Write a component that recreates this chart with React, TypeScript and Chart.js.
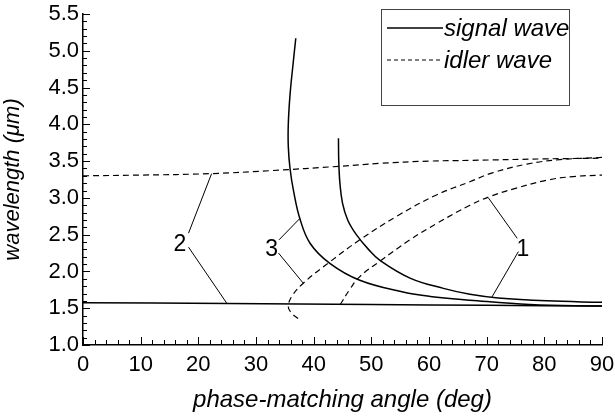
import React, { useEffect, useRef } from 'react';
import { Chart, registerables } from 'chart.js';

Chart.register(...registerables);

// ---- axis ticks ----
const xTickValues = [0, 10, 20, 30, 40, 50, 60, 70, 80, 90];
const yTickValues = [1.0, 1.5, 2.0, 2.5, 3.0, 3.5, 4.0, 4.5, 5.0, 5.5];

// ---- legend ----
const legendLabels = ['signal wave', 'idler wave'];

// ---- curves (x = phase-matching angle, y = wavelength) ----
const signal1X = [44.3, 44.35, 44.55, 45.0, 45.9, 47.4, 49.5, 51.5, 56.7, 62.5, 67.1, 72.0, 80.4, 90];
const signal1Y = [3.81, 3.5, 3.2, 2.93, 2.7, 2.5, 2.3, 2.15, 1.91, 1.77, 1.69, 1.64, 1.6, 1.58];
const idler1X = [44.6, 46.3, 48.0, 51.5, 56.7, 61.3, 67.1, 70.6, 75.0, 80.4, 85.0, 90];
const idler1Y = [1.55, 1.76, 1.93, 2.14, 2.43, 2.65, 2.9, 3.02, 3.13, 3.24, 3.29, 3.31];

const signal2X = [0, 25, 50, 70, 90];
const signal2Y = [1.575, 1.565, 1.55, 1.54, 1.53];
const idler2X = [0, 10, 22.3, 32.4, 44.6, 51.5, 60, 67.1, 80, 90];
const idler2Y = [3.3, 3.31, 3.33, 3.37, 3.43, 3.47, 3.5, 3.51, 3.53, 3.54];

const signal3X = [36.9, 36.4, 35.9, 35.6, 35.6, 35.9, 36.5, 37.6, 39.4, 42.8, 48.0, 55.5, 60.2, 67.1, 77.5, 90];
const signal3Y = [5.17, 4.8, 4.4, 4.0, 3.7, 3.4, 3.1, 2.72, 2.38, 2.11, 1.88, 1.72, 1.66, 1.61, 1.55, 1.53];
const idler3X = [37.3, 36.2, 35.6, 36.2, 38.2, 42.8, 48.0, 54.4, 61.3, 67.1, 71.0, 77.0, 82.7, 90];
const idler3Y = [1.36, 1.43, 1.52, 1.66, 1.84, 2.13, 2.43, 2.75, 3.04, 3.22, 3.34, 3.46, 3.52, 3.55];

// ---- curve annotations (data coordinates) ----
const noteLabels = ['1', '2', '3'];
const noteX = [76.3, 16.8, 32.7];
const noteY = [2.29, 2.36, 2.29];
const leaderFromX = [75.3, 75.5, 18.3, 18.3, 34.0, 33.9];
const leaderFromY = [2.45, 2.27, 2.52, 2.33, 2.43, 2.25];
const leaderToX = [70.3, 70.9, 22.3, 25.0, 37.6, 38.2];
const leaderToY = [3.0, 1.65, 3.33, 1.56, 2.72, 1.84];

const FONT = "'Liberation Sans', Arial, Helvetica, sans-serif";
const DASH = [6, 4];

const zip = (xs: number[], ys: number[]) => xs.map((x, i) => ({ x, y: ys[i] }));

const ticksPlugin = {
  id: 'innerTicks',
  afterDraw(chart: any) {
    const { ctx, scales, chartArea } = chart;
    const xs = scales.x;
    const ys = scales.y;
    ctx.save();
    ctx.strokeStyle = '#000';
    ctx.lineWidth = 1;
    for (let i = 0; i <= 45; i++) {
      const v = xs.min + i * 2;
      const px = Math.round(xs.getPixelForValue(v)) + 0.5;
      const len = i % 5 === 0 ? 8 : 5;
      ctx.beginPath();
      ctx.moveTo(px, chartArea.bottom);
      ctx.lineTo(px, chartArea.bottom - len);
      ctx.stroke();
    }
    for (let i = 0; i <= 45; i++) {
      const v = ys.min + i * 0.1;
      const py = Math.round(ys.getPixelForValue(v)) + 0.5;
      const len = i % 5 === 0 ? 7 : 4;
      ctx.beginPath();
      ctx.moveTo(chartArea.left, py);
      ctx.lineTo(chartArea.left + len, py);
      ctx.stroke();
    }
    ctx.restore();
  },
};

const notesPlugin = {
  id: 'notes',
  afterDatasetsDraw(chart: any) {
    const { ctx, scales } = chart;
    const xs = scales.x;
    const ys = scales.y;
    ctx.save();
    ctx.strokeStyle = '#000';
    ctx.lineWidth = 1;
    for (let i = 0; i < leaderFromX.length; i++) {
      ctx.beginPath();
      ctx.moveTo(xs.getPixelForValue(leaderFromX[i]), ys.getPixelForValue(leaderFromY[i]));
      ctx.lineTo(xs.getPixelForValue(leaderToX[i]), ys.getPixelForValue(leaderToY[i]));
      ctx.stroke();
    }
    ctx.fillStyle = '#000';
    ctx.font = `23px ${FONT}`;
    ctx.textAlign = 'center';
    ctx.textBaseline = 'middle';
    for (let i = 0; i < noteLabels.length; i++) {
      ctx.fillText(noteLabels[i], xs.getPixelForValue(noteX[i]), ys.getPixelForValue(noteY[i]));
    }
    ctx.restore();
  },
};

const legendPlugin = {
  id: 'boxLegend',
  afterDraw(chart: any) {
    const { ctx, chartArea } = chart;
    const bx = chartArea.right - 221;
    const by = chartArea.top - 5;
    const bw = 188;
    const bh = 96;
    ctx.save();
    ctx.strokeStyle = '#444';
    ctx.lineWidth = 1;
    ctx.strokeRect(Math.round(bx) + 0.5, Math.round(by) + 0.5, bw, bh);
    const dashes = [[], [4, 3]];
    const rows = [19, 51];
    ctx.font = `italic 24px ${FONT}`;
    ctx.fillStyle = '#000';
    ctx.textAlign = 'left';
    ctx.textBaseline = 'middle';
    legendLabels.forEach((lab, i) => {
      const y = by + rows[i];
      ctx.strokeStyle = '#000';
      ctx.lineWidth = i === 0 ? 1.5 : 1;
      ctx.setLineDash(dashes[i]);
      ctx.beginPath();
      ctx.moveTo(bx + 6, y);
      ctx.lineTo(bx + 62, y);
      ctx.stroke();
      ctx.setLineDash([]);
      ctx.fillText(lab, bx + 63, y + 1);
    });
    ctx.restore();
  },
};

export default function App() {
  const ref = useRef<HTMLCanvasElement>(null);

  useEffect(() => {
    document.body.style.margin = '0';
    const solid = (data: any) => ({
      data,
      showLine: true,
      borderColor: '#000',
      borderWidth: 1.5,
      pointRadius: 0,
      tension: 0.4,
      fill: false,
    });
    const dashed = (data: any) => ({
      data,
      showLine: true,
      borderColor: '#000',
      borderWidth: 1.2,
      borderDash: DASH,
      pointRadius: 0,
      tension: 0.4,
      fill: false,
    });
    const chart = new Chart(ref.current as HTMLCanvasElement, {
      type: 'scatter',
      data: {
        datasets: [
          { label: legendLabels[0], ...solid(zip(signal1X, signal1Y)) },
          { label: legendLabels[1], ...dashed(zip(idler1X, idler1Y)) },
          { label: legendLabels[0], ...solid(zip(signal2X, signal2Y)) },
          { label: legendLabels[1], ...dashed(zip(idler2X, idler2Y)) },
          { label: legendLabels[0], ...solid(zip(signal3X, signal3Y)) },
          { label: legendLabels[1], ...dashed(zip(idler3X, idler3Y)) },
        ] as any,
      },
      options: {
        animation: false,
        responsive: false,
        layout: { padding: { left: 0, right: 13, top: 14, bottom: 0 } },
        plugins: { legend: { display: false }, tooltip: { enabled: false } },
        scales: {
          x: {
            type: 'linear',
            min: 0,
            max: 90,
            afterBuildTicks: (s: any) => {
              s.ticks = xTickValues.map((v) => ({ value: v }));
            },
            afterFit: (s: any) => {
              s.height = 74;
              s.paddingRight = 0;
              s.paddingLeft = 0;
            },
            grid: { display: false, drawTicks: false },
            border: { display: true, color: '#000', width: 1.5 },
            ticks: {
              color: '#000',
              font: { family: FONT, size: 22 },
              padding: 7,
              maxRotation: 0,
              autoSkip: false,
              callback: (v: any) => String(v),
            },
            title: {
              display: true,
              text: 'phase-matching angle (deg)',
              color: '#000',
              font: { family: FONT, size: 24, style: 'italic' },
              padding: { top: 0, bottom: 4 },
            },
          },
          y: {
            type: 'linear',
            min: 1.0,
            max: 5.5,
            afterBuildTicks: (s: any) => {
              s.ticks = yTickValues.map((v) => ({ value: v }));
            },
            afterFit: (s: any) => {
              s.width = 83;
              s.paddingTop = 0;
              s.paddingBottom = 0;
            },
            grid: { display: false, drawTicks: false },
            border: { display: true, color: '#000', width: 1.5 },
            ticks: {
              color: '#000',
              font: { family: FONT, size: 22 },
              padding: 4,
              autoSkip: false,
              callback: (v: any) => Number(v).toFixed(1),
            },
            title: {
              display: true,
              text: 'wavelength (\u03bcm)',
              color: '#000',
              font: { family: FONT, size: 22, style: 'italic' },
              padding: { top: 0, bottom: 6 },
            },
          },
        },
      },
      plugins: [ticksPlugin, notesPlugin, legendPlugin],
    });
    return () => chart.destroy();
  }, []);

  return (
    <div style={{ width: 615, height: 419, background: '#fff' }}>
      <canvas ref={ref} width={615} height={419} />
    </div>
  );
}
